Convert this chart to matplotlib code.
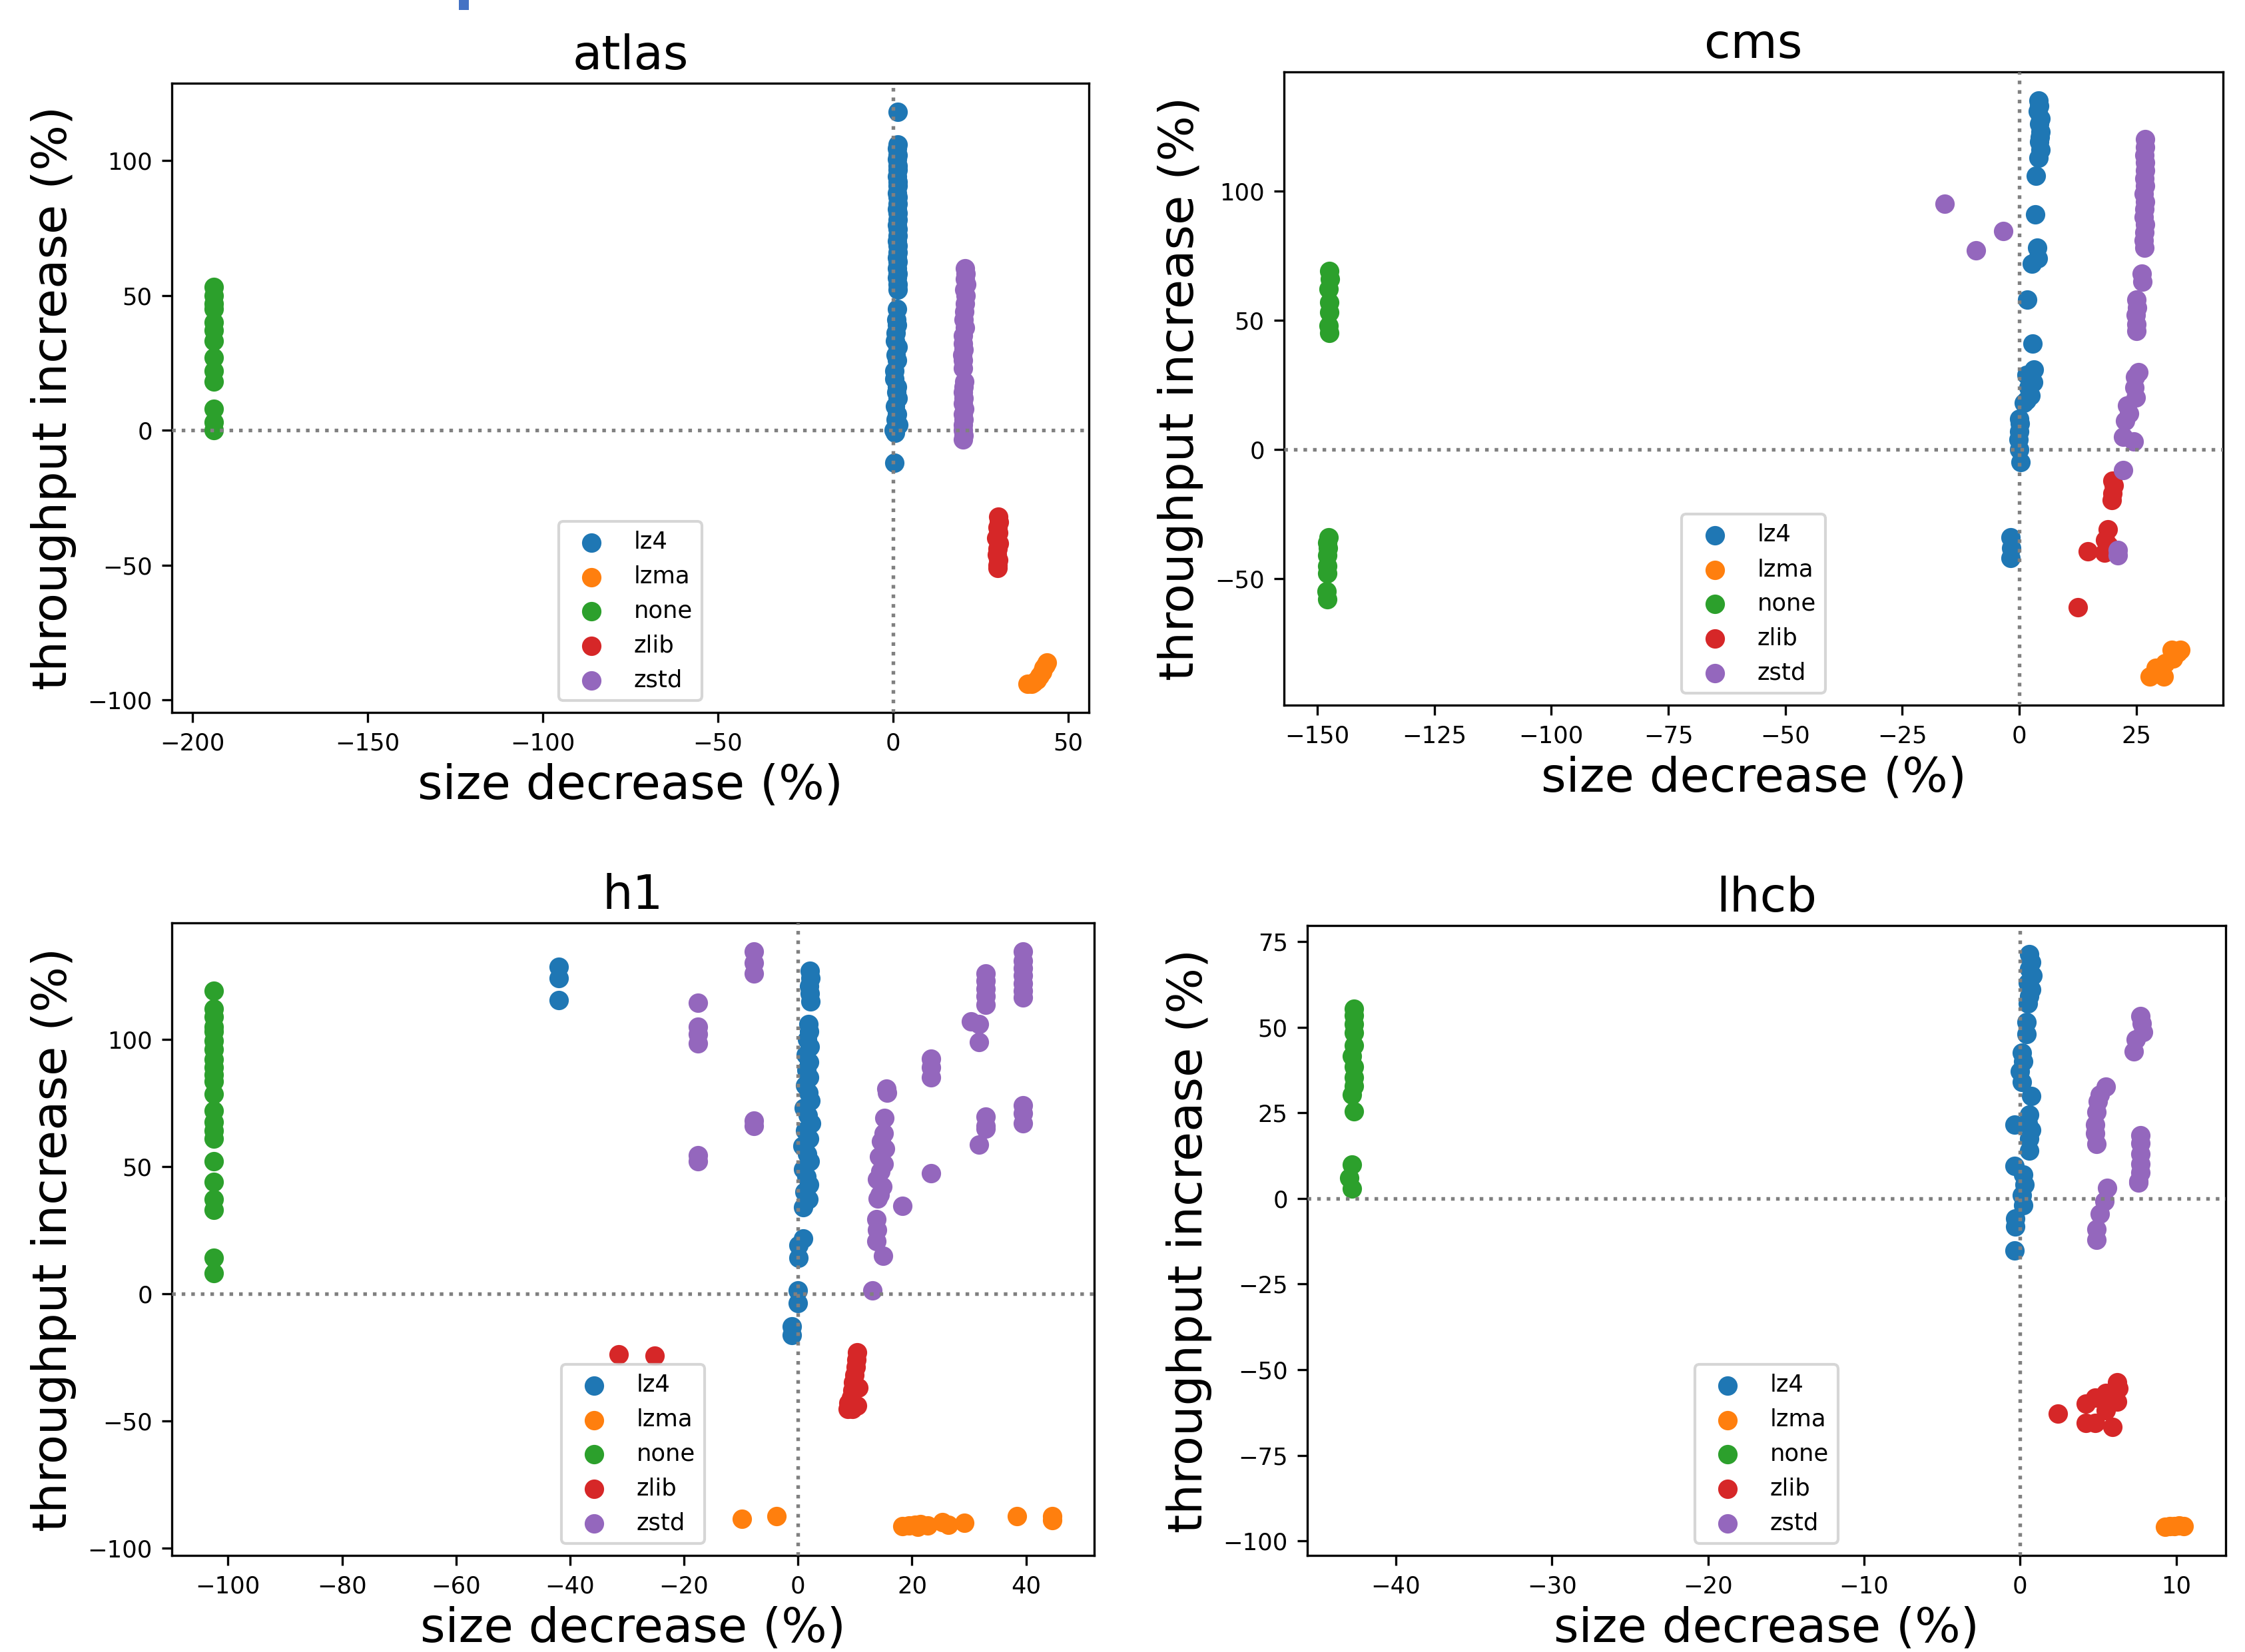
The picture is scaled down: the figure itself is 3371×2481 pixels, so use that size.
import matplotlib
matplotlib.use("Agg")
import matplotlib.pyplot as plt
from matplotlib.patches import Rectangle

W, H, DPI = 3371, 2481, 300

codecs = ["lz4", "lzma", "none", "zlib", "zstd"]
panel_names = ["atlas", "cms", "h1", "lhcb"]

# ---------------- atlas ----------------
atlas_lz4_y = [118, 106, 104.5, 102, 100.5, 98, 96.5, 94, 92, 90.5, 88, 86.5, 84, 82, 80.5, 78, 76, 74.5, 72, 70,
               68.5, 66, 64, 62.5, 60, 58, 56.5, 54, 52, 45, 41, 39, 36, 33, 31, 28, 26, 22, 19, 16, 14, 12, 9, 6,
               4, 2, 0, -1, -12]
atlas_lz4_x = [1.3, 1.3, 1.2, 1.4, 1.2, 1.3, 1.4, 1.2, 1.3, 1.4, 1.2, 1.3, 1.3, 1.2, 1.4, 1.3, 1.2, 1.4, 1.3, 1.2,
               1.3, 1.4, 1.2, 1.3, 1.1, 1.3, 1.2, 1.4, 1.3, 1.2, 1.0, 1.1, 0.8, 0.6, 1.4, 0.7, 1.2, 0.3, 0.4, 1.1,
               0.9, 1.3, 0.6, 1.2, 0.8, 1.5, 0.2, 0.5, 0.4]
atlas_lzma_x = [44.0, 43.5, 43.0, 42.5, 41.8, 41.0, 40.2, 38.5, 39.5]
atlas_lzma_y = [-86, -87, -88, -89.5, -91, -92.5, -93.5, -94, -94]
atlas_none_x = [-194] * 13
atlas_none_y = [53, 50, 47, 45, 40, 37, 33, 27, 22, 18, 8, 3, 0]
atlas_zlib_x = [30.1, 30.2, 29.8, 30.0, 29.5, 30.2, 29.9, 29.7, 30.0, 29.8, 29.9]
atlas_zlib_y = [-32, -34, -36, -38, -40, -42, -44, -46, -48, -50, -51]
atlas_zstd_x = [20.6, 20.8, 20.5, 20.9, 20.4, 20.7, 20.6, 20.3, 20.1, 20.5, 19.9, 20.0, 20.2, 19.8, 19.9, 20.0,
                20.4, 20.1, 19.9, 20.2, 20.0, 20.3, 19.9, 20.1, 20.0, 19.9, 20.2, 19.9]
atlas_zstd_y = [60, 58, 56, 54, 52, 50, 47, 44, 41, 38, 35, 32, 30, 28, 26, 23, 18, 16, 14, 12, 10, 8, 6, 4, 2,
                0, -2, -3.5]

# ---------------- cms ----------------
cms_lz4_x = [4.1, 4.3, 3.9, 4.5, 4.2, 4.6, 4.4, 4.2, 4.5, 4.1, 3.6, 3.4, 3.8, 3.9, 2.7, 1.7, 2.8, 3.1, 1.5, 2.9,
             2.0, 2.4, 1.5, 1.0, 0.0, 0.1, 0.0, -0.1, 0.0, 0.3, -1.9, -1.8, -1.9]
cms_lz4_y = [135, 133, 131, 128, 126, 123, 121, 119, 116, 113, 106, 91, 78, 74, 72, 58, 41, 31, 29, 26,
             24, 21, 19, 18, 12, 10, 7, 4, 0, -5, -34, -38, -42]
cms_lzma_x = [34.4, 32.5, 33.8, 32.9, 31.1, 29.2, 27.8, 30.8]
cms_lzma_y = [-77.5, -77.5, -78.5, -81, -82.6, -84.4, -87.8, -87.8]
cms_none_x = [-147.5, -147.3, -147.6, -147.4, -147.5, -147.6, -147.4, -147.6, -147.8, -147.7, -147.9, -147.8,
              -147.9, -148.0, -147.9]
cms_none_y = [69, 66, 62, 57, 53, 48, 45, -34, -36, -38, -41, -45, -48, -55, -58]
cms_zlib_x = [19.9, 20.2, 19.9, 19.8, 18.9, 18.4, 18.2, 14.7, 12.5, 19.0]
cms_zlib_y = [-12, -14, -17, -19.5, -31, -35, -40, -39.5, -61, -37]
cms_zstd_x = [-15.9, -9.3, -3.4, 26.8, 26.9, 26.7, 26.8, 26.9, 26.7, 26.8, 26.6, 26.8, 26.7, 26.6, 26.8, 26.7,
              26.6, 26.7, 26.2, 26.3, 25.0, 25.1, 24.9, 25.0, 25.0, 25.5, 24.8, 24.6, 24.9, 23.1, 23.4, 22.6,
              22.2, 24.5, 22.2, 21.0, 21.0]
cms_zstd_y = [95, 77, 84.5, 120, 117, 114, 111, 108, 105, 102, 99, 96, 93, 90, 87, 84, 81, 78, 68, 65, 58, 55,
              52, 48.5, 46, 30, 28, 24, 20, 17, 14, 11, 5, 3, -8, -41, -39]

# ---------------- h1 ----------------
h1_lz4_x = [-42, -42, -42, 2.1, 2.2, 2.0, 2.1, 2.2, 1.8, 2.0, 1.6, 2.1, 1.4, 1.9, 1.5, 2.0, 1.2, 1.8, 2.2, 1.0,
            1.7, 2.3, 1.3, 1.9, 0.8, 1.6, 2.1, 0.9, 1.5, 2.0, 1.1, 1.8, 0.9, 0.9, 0.1, 0.1, 0.0, 0.0, -1.1, -1.1]
h1_lz4_y = [128.5, 124, 115.5, 127, 124, 121, 118, 115, 106, 103, 100, 97, 94, 91, 88, 85, 82, 79, 76, 73,
            70, 67, 64, 61, 58, 55, 52, 49, 46, 43, 40, 37, 34, 21.6, 19, 14, 1.3, -3.7, -13, -16.4]
h1_lzma_x = [-9.8, -3.8, 18.3, 19.5, 20.5, 21.5, 22.7, 21.0, 25.3, 26.4, 29.2, 38.4, 44.6, 44.6]
h1_lzma_y = [-88.5, -87.5, -91.5, -91.3, -91, -90.8, -91.2, -91.7, -90, -91, -90.3, -87.5, -87.5, -89]
h1_none_x = [-102.5] * 22
h1_none_y = [119, 112, 109, 105, 103, 99.5, 96, 92, 89, 86, 83.5, 78.5, 72, 67.5, 64, 61, 52, 44, 37, 33, 14, 8]
h1_zlib_x = [10.4, 10.2, 10.1, 9.9, 9.7, 9.5, 9.3, 8.8, 8.7, 9.5, 10.4, 10.6, -31.5, -25.2]
h1_zlib_y = [-23, -26, -29, -32, -35, -38, -41, -43, -45.5, -45.5, -44, -37, -24, -24.5]
h1_zstd_x = [-7.7, -7.7, -7.7, -17.6, -17.6, -17.6, -17.6, -7.7, -7.7, -17.6, -17.6,
             39.5, 39.5, 39.5, 39.5, 39.5, 39.5, 39.5, 39.5, 39.5, 39.5,
             32.9, 32.9, 32.9, 32.9, 32.9, 32.9, 32.9, 32.9, 30.3, 31.7, 31.7,
             23.3, 23.3, 23.3, 31.7, 23.3, 15.5, 15.6, 15.2,
             15.0, 14.6, 15.3, 14.2, 15.0, 14.5, 13.9, 14.8, 14.3, 14.0,
             18.3, 13.8, 13.9, 13.7, 14.9, 13.0]
h1_zstd_y = [134.5, 130, 126, 114.5, 105, 102, 98.5, 68, 66, 54.5, 52,
             134.5, 131, 128, 125, 122, 119, 116.5, 74, 71, 67,
             126, 123, 120, 117, 113.5, 69.5, 66, 65, 107, 106, 99,
             92.5, 89, 85, 58.6, 47.3, 80.7, 79, 69,
             63, 60, 57, 54, 51, 48, 45, 42, 39, 37.5,
             34.5, 29.3, 25, 20.7, 14.8, 1.3]

# ---------------- lhcb ----------------
lhcb_lz4_x = [0.6, 0.7, 0.6, 0.8, 0.5, 0.7, 0.6, 0.5, 0.4, 0.4, 0.1, 0.2, 0.0, 0.1, 0.7, 0.6, 0.5, 0.7, 0.6,
              0.6, -0.35, -0.35, 0.2, 0.3, 0.1, 0.2, -0.3, -0.3, -0.35]
lhcb_lz4_y = [71.3, 69, 67, 65, 63, 61, 59, 57, 51.5, 48, 42.5, 40, 37, 34, 29.9, 24.5, 22, 20, 17.5,
              14, 21.5, 9.5, 7, 4, 1, -2, -5.8, -8.3, -15.2]
lhcb_lzma_x = [9.3, 9.6, 9.9, 10.2, 10.5]
lhcb_lzma_y = [-95.9, -95.8, -95.7, -95.6, -95.8]
lhcb_none_x = [-42.7, -42.7, -42.7, -42.7, -42.7, -42.8, -42.7, -42.7, -42.7, -42.8, -42.7, -42.8, -43.0, -42.8]
lhcb_none_y = [55.3, 53.4, 50.9, 48.4, 44.6, 41.5, 38.4, 35.3, 32.8, 30.3, 25.5, 9.8, 6, 2.8]
lhcb_zlib_x = [2.4, 4.2, 4.2, 4.8, 4.8, 5.5, 5.5, 6.2, 6.2, 5.9, 6.3]
lhcb_zlib_y = [-62.8, -60, -65.5, -58.1, -65.5, -56.8, -61.8, -53.7, -59.3, -66.8, -55.5]
lhcb_zstd_x = [7.7, 7.8, 7.9, 7.4, 7.3, 5.5, 5.1, 5.0, 4.9, 4.8, 4.8, 4.9,
               7.7, 7.7, 7.7, 7.7, 7.7, 7.6, 7.6, 5.6, 5.4, 5.1, 4.9, 4.9]
lhcb_zstd_y = [53.2, 51, 48.5, 46.5, 43, 32.7, 30.2, 28.4, 25.2, 21.5, 19.0, 15.9,
               18.5, 16, 13, 10, 7.5, 5, 4.7, 3.1, -0.9, -4.6, -9.0, -12.1]

data = {
    "atlas": [(atlas_lz4_x, atlas_lz4_y), (atlas_lzma_x, atlas_lzma_y), (atlas_none_x, atlas_none_y),
              (atlas_zlib_x, atlas_zlib_y), (atlas_zstd_x, atlas_zstd_y)],
    "cms": [(cms_lz4_x, cms_lz4_y), (cms_lzma_x, cms_lzma_y), (cms_none_x, cms_none_y),
            (cms_zlib_x, cms_zlib_y), (cms_zstd_x, cms_zstd_y)],
    "h1": [(h1_lz4_x, h1_lz4_y), (h1_lzma_x, h1_lzma_y), (h1_none_x, h1_none_y),
           (h1_zlib_x, h1_zlib_y), (h1_zstd_x, h1_zstd_y)],
    "lhcb": [(lhcb_lz4_x, lhcb_lz4_y), (lhcb_lzma_x, lhcb_lzma_y), (lhcb_none_x, lhcb_none_y),
             (lhcb_zlib_x, lhcb_zlib_y), (lhcb_zstd_x, lhcb_zstd_y)],
}

# axes boxes in pixels: left, right, top, bottom
boxes = {
    "atlas": (258, 1635, 125, 1070),
    "cms": (1928, 3338, 108, 1059),
    "h1": (258, 1643, 1386, 2336),
    "lhcb": (1963, 3342, 1390, 2336),
}

fig = plt.figure(figsize=(W / DPI, H / DPI), dpi=DPI)

for name in panel_names:
    l, r, t, b = boxes[name]
    ax = fig.add_axes([l / W, 1 - b / H, (r - l) / W, (b - t) / H])
    for i, (codec, (xs, ys)) in enumerate(zip(codecs, data[name])):
        ax.scatter(xs, ys, s=36, color=f"C{i}", label=codec, zorder=2)
    ax.axhline(0, color="gray", linestyle=":", linewidth=1.3, zorder=3)
    ax.axvline(0, color="gray", linestyle=":", linewidth=1.3, zorder=3)
    ax.set_title(name, fontsize=17.3, pad=5)
    ax.set_xlabel("size decrease (%)", fontsize=17.3, labelpad=3)
    ax.set_ylabel("throughput increase (%)", fontsize=17.3)
    ax.tick_params(labelsize=8.5)
    ax.legend(loc="lower center", fontsize=8.5)

fig.patches.append(Rectangle((689 / W, 1 - 15 / H), 15 / W, 15 / H, transform=fig.transFigure,
                             facecolor="#4472C4", edgecolor="none"))

fig.savefig("out.png", dpi=DPI)
